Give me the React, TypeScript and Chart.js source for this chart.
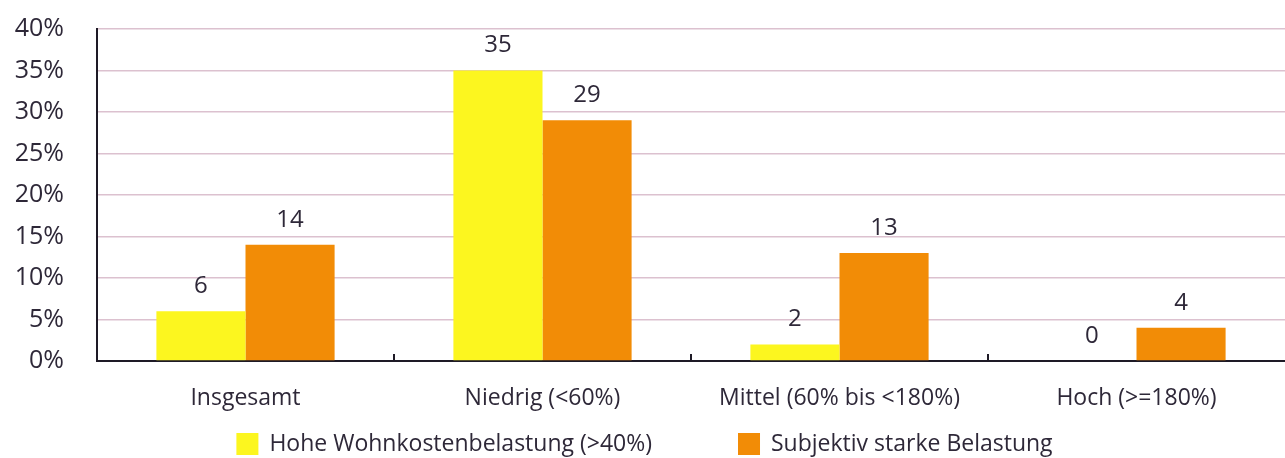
import React, { useEffect, useRef } from "react";
import { Chart, registerables } from "chart.js";

Chart.register(...registerables);

const categories = ["Insgesamt", "Niedrig (<60%)", "Mittel (60% bis <180%)", "Hoch (>=180%)"];
const seriesNames = ["Hohe Wohnkostenbelastung (>40%)", "Subjektiv starke Belastung"];
const hoheWohnkosten = [6, 35, 2, 0];
const subjektiv = [14, 29, 13, 4];
const yTicks = [0, 5, 10, 15, 20, 25, 30, 35, 40];

const FONT = "'Open Sans', 'Noto Sans', sans-serif";
const TEXT = "#2e2838";
const YELLOW = "#fcf61f";
const ORANGE = "#f28c06";

const labelsPlugin = {
  id: "barLabels",
  afterDatasetsDraw(chart: any) {
    const ctx = chart.ctx;
    ctx.save();
    ctx.font = `24px ${FONT}`;
    ctx.fillStyle = TEXT;
    ctx.textAlign = "center";
    ctx.textBaseline = "middle";
    chart.data.datasets.forEach((ds: any, di: number) => {
      const meta = chart.getDatasetMeta(di);
      meta.data.forEach((el: any, i: number) => {
        ctx.fillText(String(ds.data[i]), el.x, el.y - 25);
      });
    });
    ctx.restore();
  },
  afterDraw(chart: any) {
    const x = chart.scales.x;
    const bottom = chart.chartArea.bottom;
    const ctx = chart.ctx;
    ctx.save();
    ctx.strokeStyle = "#1e1a26";
    ctx.lineWidth = 2;
    for (let i = 0; i < categories.length - 1; i++) {
      const px = (x.getPixelForValue(i) + x.getPixelForValue(i + 1)) / 2;
      ctx.beginPath();
      ctx.moveTo(px, bottom);
      ctx.lineTo(px, bottom - 7);
      ctx.stroke();
    }
    // custom legend
    ctx.font = `23px ${FONT}`;
    ctx.textBaseline = "middle";
    ctx.textAlign = "left";
    const box = 22;
    const gap = 86;
    const colors = chart.data.datasets.map((d: any) => d.backgroundColor);
    const widths = chart.data.datasets.map((d: any) => box + 11 + ctx.measureText(d.label).width);
    const total = widths[0] + gap + widths[1];
    let lx = chart.width / 2 + 2 - total / 2;
    const cy = 444;
    chart.data.datasets.forEach((d: any, i: number) => {
      ctx.fillStyle = colors[i];
      ctx.fillRect(lx, cy - box / 2, box, box);
      ctx.fillStyle = TEXT;
      ctx.fillText(d.label, lx + box + 11, cy);
      lx += widths[i] + gap;
    });
    ctx.restore();
  },
};

export default function App() {
  const ref = useRef<HTMLCanvasElement>(null);
  useEffect(() => {
    if (!ref.current) return;
    const chart = new Chart(ref.current, {
      type: "bar",
      data: {
        labels: categories,
        datasets: [
          { label: seriesNames[0], data: hoheWohnkosten, backgroundColor: YELLOW, borderWidth: 0 },
          { label: seriesNames[1], data: subjektiv, backgroundColor: ORANGE, borderWidth: 0 },
        ],
      },
      options: {
        animation: false,
        responsive: true,
        maintainAspectRatio: false,
        datasets: { bar: { barPercentage: 1, categoryPercentage: 0.6 } },
        layout: { padding: { top: 29, left: 0, right: 0, bottom: 37 } },
        scales: {
          x: {
            grid: { display: false, drawTicks: false },
            border: { display: true, color: "#1e1a26", width: 2 },
            ticks: { color: TEXT, font: { family: FONT, size: 23 }, padding: 24 },
            afterFit: (s: any) => {
              s.height = 60;
            },
          },
          y: {
            min: 0,
            max: 40,
            afterBuildTicks: (s: any) => {
              s.ticks = yTicks.map((v) => ({ value: v }));
            },
            afterFit: (s: any) => {
              s.width = 97;
              s.paddingTop = 0;
              s.paddingBottom = 0;
            },
            grid: { color: "#dcc1cf", lineWidth: 1.5, drawTicks: false },
            border: { display: true, color: "#1e1a26", width: 2 },
            ticks: {
              color: TEXT,
              font: { family: FONT, size: 25 },
              padding: 33,
              callback: (v: any) => `${v}%`,
            },
          },
        },
        plugins: {
          legend: { display: false },
          tooltip: { enabled: false },
        },
      },
      plugins: [labelsPlugin],
    });
    return () => chart.destroy();
  }, []);
  return (
    <div style={{ position: "absolute", left: 0, top: 0, width: 1285, height: 458 }}>
      <canvas ref={ref} />
    </div>
  );
}
